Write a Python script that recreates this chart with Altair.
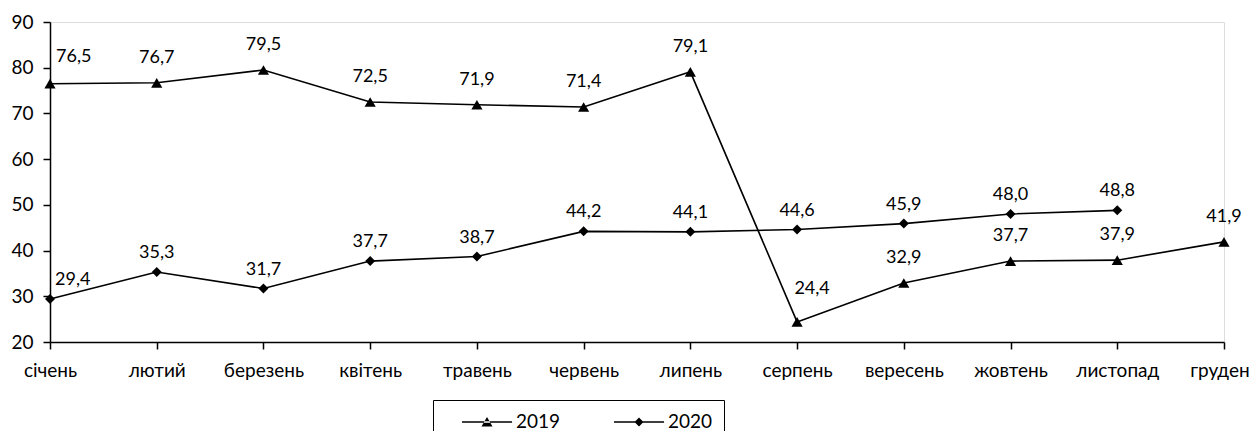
import altair as alt
import pandas as pd

months = ["січень", "лютий", "березень", "квітень", "травень", "червень",
          "липень", "серпень", "вересень", "жовтень", "листопад", "грудень"]
series_names = ["2019", "2020"]
values_2019 = [76.5, 76.7, 79.5, 72.5, 71.9, 71.4, 79.1, 24.4, 32.9, 37.7, 37.9, 41.9]
values_2020 = [29.4, 35.3, 31.7, 37.7, 38.7, 44.2, 44.1, 44.6, 45.9, 48.0, 48.8, None]
y_ticks = [20, 30, 40, 50, 60, 70, 80, 90]

rows = []
for i, m in enumerate(months):
    for s, vals in zip(series_names, [values_2019, values_2020]):
        v = vals[i]
        if v is not None:
            rows.append({"month": m, "idx": i, "series": s, "value": v,
                         "label": f"{v:.1f}".replace(".", ",")})
df = pd.DataFrame(rows)

FONT = "Lato"
FS = 18

x_enc = alt.X("month:N", sort=months,
              scale=alt.Scale(type="point", padding=0),
              axis=alt.Axis(title=None, labelAngle=0, domainColor="black",
                            tickColor="black", tickSize=7, labelPadding=12,
                            labelFont=FONT, labelFontSize=FS + 1, labelColor="black",
                            domainWidth=1.5, tickWidth=1.5, grid=False))
y_enc = alt.Y("value:Q",
              scale=alt.Scale(domain=[20, 90], nice=False, zero=False),
              axis=alt.Axis(title=None, values=y_ticks, domainColor="black",
                            tickColor="black", tickSize=7, labelPadding=10,
                            labelFont=FONT, labelFontSize=FS + 1, labelColor="black",
                            domainWidth=1.5, tickWidth=1.5, grid=False))

base = alt.Chart(df)

lines = base.mark_line(color="black", strokeWidth=1.6).encode(
    x=x_enc, y=y_enc, detail="series:N")

points = base.mark_point(filled=True, color="black", opacity=1).encode(
    x=x_enc, y=y_enc,
    shape=alt.Shape("series:N", scale=alt.Scale(domain=series_names,
                    range=["triangle-up", "diamond"]), legend=None),
    size=alt.Size("series:N", scale=alt.Scale(domain=series_names, range=[125, 100]),
                  legend=None))

# legend symbols: a thin bar (the line) plus the marker, both filled
legend_paths = ["M-2.5,-0.07H2.5V0.07H-2.5ZM-0.55,0.45L0.55,0.45L0,-0.5Z",
                "M-2.5,-0.07H2.5V0.07H-2.5ZM-0.45,0L0,-0.45L0.45,0L0,0.45Z"]
legend_layer = base.mark_point(filled=True, color="black", opacity=0).encode(
    x=x_enc, y=y_enc,
    shape=alt.Shape("series:N", scale=alt.Scale(domain=series_names, range=legend_paths),
                    legend=alt.Legend(title=None, orient="none", direction="horizontal",
                                      legendX=383, legendY=378,
                                      strokeColor="black", padding=11,
                                      symbolSize=400, symbolOpacity=1,
                                      symbolFillColor="black",
                                      symbolOffset=32,
                                      labelOffset=18, columnPadding=35,
                                      labelFont=FONT, labelFontSize=FS + 1,
                                      labelColor="black")))

txt_kw = dict(font=FONT, fontSize=FS, color="black", baseline="middle")
idx_rest = "datum.idx > 0 && datum.label != '24,4'"
labels_2019 = base.mark_text(dy=-25, **txt_kw).encode(x=x_enc, y=y_enc, text="label:N"
    ).transform_filter(f"datum.series == '2019' && {idx_rest}")
labels_2020 = base.mark_text(dy=-19, **txt_kw).encode(x=x_enc, y=y_enc, text="label:N"
    ).transform_filter(f"datum.series == '2020' && {idx_rest}")
labels_first_2019 = base.mark_text(dy=-27, dx=6, align="left", **txt_kw).encode(
    x=x_enc, y=y_enc, text="label:N").transform_filter("datum.idx == 0 && datum.series == '2019'")
labels_first_2020 = base.mark_text(dy=-19, dx=5, align="left", **txt_kw).encode(
    x=x_enc, y=y_enc, text="label:N").transform_filter("datum.idx == 0 && datum.series == '2020'")
label_low = base.mark_text(dy=-33, dx=15, **txt_kw).encode(
    x=x_enc, y=y_enc, text="label:N").transform_filter("datum.label == '24,4'")

chart = alt.layer(lines, points, legend_layer, labels_2019, labels_2020,
                  labels_first_2019, labels_first_2020, label_low
    ).resolve_scale(shape="independent", size="independent").properties(
    width=1174, height=320,
    padding={"left": 42, "top": 14, "right": 26, "bottom": 89},
    autosize=alt.AutoSizeParams(type="none")
).configure_view(stroke=None).configure(background="white")

chart.save("out.html", embed_options={"renderer": "svg", "actions": False})
